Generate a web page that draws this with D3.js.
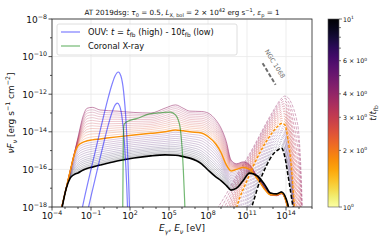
<!DOCTYPE html>
<html>
<head>
<meta charset="UTF-8">
<script src="https://cdn.jsdelivr.net/npm/d3@7"></script>
<style>
  body { margin: 0; background: #fff; }
  svg { font-family: "DejaVu Sans", sans-serif; }
</style>
</head>
<body>
<div id="chart"></div>
<script>
// all values are log10: E in eV, nuF_nu in erg s^-1 cm^-2

// photon spectra (solid): key curves on a common energy grid
const solidLogE   = [-3.3,-2.9,-2.6,-2.3,-2.0,-1.6,-1.3,-0.9,-0.3,1.0,2.3,3.6,4.7,5.5,6.1,6.6,7.5,8.0,8.6,9.0,9.4,9.77,10.2,10.7,11.2,11.8,12.4,12.8,13.3,13.65,14.0,14.25,14.45];
const solidTop    = [-18.15,-16.97,-16.09,-15.2,-14.3,-13.15,-12.75,-12.7,-12.84,-12.9,-12.97,-13.0,-12.74,-12.57,-12.75,-12.9,-12.92,-13.0,-13.37,-13.8,-14.5,-15.5,-15.7,-15.6,-15.75,-16.4,-17.0,-17.35,-17.4,-17.3,-17.7,-18.5,-20];
const solidOrange = [-18.15,-16.97,-16.09,-15.25,-14.75,-14.55,-14.48,-14.43,-14.38,-14.27,-14.17,-14.08,-14.0,-13.9,-13.95,-14.0,-14.06,-14.25,-14.65,-15.1,-15.75,-16.08,-16.0,-15.9,-16.0,-16.5,-17.1,-17.35,-17.35,-17.25,-17.7,-18.5,-20];
const solidBlack  = [-18.3,-17.0,-16.46,-16.28,-16.19,-16.03,-15.95,-15.88,-15.77,-15.55,-15.39,-15.28,-15.23,-15.25,-15.32,-15.4,-15.7,-16.03,-16.4,-16.6,-16.85,-17.1,-17.0,-16.6,-16.2,-16.35,-16.85,-17.25,-17.3,-17.2,-17.55,-18.3,-20];
// thin photon curves: level at E = 10^2.3 eV and their time t/t_fb
const upperLevels = [-12.97,-13.06,-13.15,-13.25,-13.35,-13.45,-13.55,-13.65,-13.75,-13.85,-13.95,-14.06];
const upperTimes  = [3.9,3.7,3.5,3.35,3.2,3.05,2.9,2.75,2.6,2.45,2.3,2.15];
const lowerLevels = [-14.28,-14.38,-14.48,-14.58,-14.68,-14.78,-14.88,-14.97,-15.05,-15.13,-15.21,-15.28,-15.34];
const lowerTimes  = [5.0,5.3,5.6,5.9,6.2,6.5,6.9,7.3,7.7,8.1,8.5,9.0,9.5];

// neutrino spectra (dashed)
const nuLogE   = [8.7,9.5,10.3,11.0,11.5,12.0,12.5,13.0,13.35,13.65,13.9,14.15,14.4,14.6,14.8,15.0,15.15,15.3];
const nuTop    = [-18.1,-17.2,-16.2,-15.4,-14.8,-14.15,-13.5,-12.9,-12.5,-12.22,-12.1,-12.18,-12.45,-12.8,-13.3,-14.2,-16.0,-19];
const nuOrange = [-22,-20,-17.8,-16.6,-15.8,-15.1,-14.5,-14.0,-13.72,-13.56,-13.62,-14.4,-15.8,-17.6,-19.5,-21.5,-23,-25];
const nuBlack  = [-24,-22,-20,-18.8,-17.7,-16.6,-15.8,-15.2,-14.98,-14.86,-15.3,-16.3,-17.4,-18.4,-20,-21.5,-23,-25];
// thin neutrino curves: level at E = 10^13.65 eV
const nuUpperLevels = [-12.22,-12.33,-12.45,-12.57,-12.69,-12.81,-12.93,-13.05,-13.17,-13.29,-13.41];
const nuLowerLevels = [-13.68,-13.8,-13.92,-14.04,-14.16,-14.28,-14.4,-14.52,-14.63,-14.74];

// OUV blackbodies
const ouvHighLogE = [-1.75,-1.5,-1.0,-0.5,0,0.3,0.6,0.85,1.1,1.3,1.5,1.7,1.85,1.95,2.0];
const ouvHigh     = [-18.3,-17.5,-16.0,-14.54,-13.08,-12.25,-11.51,-11.03,-10.82,-11.03,-11.81,-13.52,-15.72,-17.8,-19.1];
const ouvLowLogE  = [-1.2,-1.0,-0.5,0,0.3,0.6,0.85,1.025,1.2,1.4,1.6,1.75,1.82];
const ouvLow      = [-18.04,-17.44,-15.97,-14.53,-13.71,-13.0,-12.58,-12.47,-12.62,-13.31,-14.88,-16.91,-18.23];

// coronal X-ray
const xrayLogE = [1.43,1.46,1.49,1.55,1.8,2.5,3.5,4.5,5.1,5.5,5.7,5.85,6.0,6.1,6.2,6.27];
const xray     = [-19,-16.5,-14.2,-13.6,-13.45,-13.3,-13.05,-12.98,-12.95,-13.1,-13.35,-13.75,-14.8,-16.0,-17.6,-19];

// NGC 1068
const ngcLogE = [12.2, 13.2];
const ngc     = [-10.35, -11.5];

const xTicks = [-4, -1, 2, 5, 8, 11, 14];
const yTicks = [-8, -10, -12, -14, -16, -18];
const cbTicks = [1, 2, 3, 4, 6, 10];
const cbLabels = [["10", "0"], ["2 × 10", "0"], ["3 × 10", "0"], ["4 × 10", "0"], ["6 × 10", "0"], ["10", "1"]];

const W = 389, H = 243;
const L = 52, R = 312, T = 19, B = 207;

const svg = d3.select("#chart").append("svg")
  .attr("width", W).attr("height", H);

const x = d3.scaleLog().domain([1e-4, 1e16]).range([L, R]);
const y = d3.scaleLog().domain([1e-18, 1e-8]).range([B, T]);
const tc = d3.scaleLog().domain([1, 10]).range([B, T]);
const tColor = t => d3.interpolateInferno(1 - Math.log10(t));

function rich(sel, parts, size) {
  let shift = 0;
  parts.forEach(p => {
    const target = p.sup ? -0.42 * size : p.sub ? 0.28 * size : 0;
    const ts = sel.append("tspan").text(p.t).attr("dy", target - shift);
    shift = target;
    if (p.sup || p.sub) ts.attr("font-size", size * 0.7);
    if (p.i) ts.attr("font-style", "italic");
  });
}

svg.append("defs").append("clipPath").attr("id", "plot")
  .append("rect").attr("x", L).attr("y", T).attr("width", R - L).attr("height", B - T);

// grid
const grid = svg.append("g").attr("stroke", "#e8e8e8").attr("stroke-width", 0.8);
xTicks.forEach(e => grid.append("line").attr("x1", x(10 ** e)).attr("x2", x(10 ** e)).attr("y1", T).attr("y2", B));
yTicks.forEach(e => grid.append("line").attr("y1", y(10 ** e)).attr("y2", y(10 ** e)).attr("x1", L).attr("x2", R));

const plot = svg.append("g").attr("clip-path", "url(#plot)");

const line = d3.line()
  .x(d => x(10 ** d[0])).y(d => y(10 ** d[1]))
  .curve(d3.curveMonotoneX);

const pts = (es, fs) => es.map((e, i) => [e, fs[i]]);
// a thin curve of the family: shape taken from the two key curves around its level
function family(es, a, b, ref, level) {
  const k = es.indexOf(ref);
  const w = (a[k] - level) / (a[k] - b[k]);
  return es.map((e, i) => [e, a[i] + w * (b[i] - a[i])]);
}

// thin photon curves
upperLevels.forEach((lv, i) => {
  plot.append("path").attr("d", line(family(solidLogE, solidTop, solidOrange, 2.3, lv)))
    .attr("fill", "none").attr("stroke", tColor(upperTimes[i]))
    .attr("stroke-width", 0.9).attr("opacity", i === 0 ? 0.6 : 0.3);
});
lowerLevels.forEach((lv, i) => {
  plot.append("path").attr("d", line(family(solidLogE, solidOrange, solidBlack, 2.3, lv)))
    .attr("fill", "none").attr("stroke", tColor(lowerTimes[i]))
    .attr("stroke-width", 0.9).attr("opacity", 0.25);
});

// thin neutrino curves
nuUpperLevels.forEach((lv, i) => {
  plot.append("path").attr("d", line(family(nuLogE, nuTop, nuOrange, 13.65, lv)))
    .attr("fill", "none").attr("stroke", tColor(upperTimes[i]))
    .attr("stroke-width", 1).attr("stroke-dasharray", "3,1.5").attr("opacity", 0.4);
});
nuLowerLevels.forEach((lv, i) => {
  plot.append("path").attr("d", line(family(nuLogE, nuOrange, nuBlack, 13.65, lv)))
    .attr("fill", "none").attr("stroke", tColor(lowerTimes[i]))
    .attr("stroke-width", 1).attr("stroke-dasharray", "3,1.5").attr("opacity", 0.25);
});

// highlighted curves
const orange = tColor(1.75);
plot.append("path").attr("d", line(pts(solidLogE, solidOrange)))
  .attr("fill", "none").attr("stroke", orange).attr("stroke-width", 1.5);
plot.append("path").attr("d", line(pts(nuLogE, nuOrange)))
  .attr("fill", "none").attr("stroke", orange).attr("stroke-width", 1.5).attr("stroke-dasharray", "3,1.5");
plot.append("path").attr("d", line(pts(solidLogE, solidBlack)))
  .attr("fill", "none").attr("stroke", "#000").attr("stroke-width", 1.6);
plot.append("path").attr("d", line(pts(nuLogE, nuBlack)))
  .attr("fill", "none").attr("stroke", "#000").attr("stroke-width", 1.5).attr("stroke-dasharray", "4,2");

// OUV and X-ray
[[ouvHighLogE, ouvHigh], [ouvLowLogE, ouvLow]].forEach(c => {
  plot.append("path").attr("d", line(pts(c[0], c[1])))
    .attr("fill", "none").attr("stroke", "blue").attr("stroke-width", 1.2).attr("opacity", 0.5);
});
plot.append("path").attr("d", line(pts(xrayLogE, xray)))
  .attr("fill", "none").attr("stroke", "green").attr("stroke-width", 1.2).attr("opacity", 0.55);

// NGC 1068
plot.append("path").attr("d", d3.line().x(d => x(10 ** d[0])).y(d => y(10 ** d[1]))(pts(ngcLogE, ngc)))
  .attr("stroke", "#6e6e6e").attr("stroke-width", 2).attr("stroke-dasharray", "4,2");
svg.append("text").attr("transform", "translate(273,65) rotate(58)")
  .attr("text-anchor", "middle").attr("font-size", 6.4).attr("fill", "#6e6e6e")
  .text("NGC 1068");

// axes frame and ticks
const ax = svg.append("g").attr("stroke", "#222").attr("stroke-width", 0.8);
ax.append("rect").attr("x", L).attr("y", T).attr("width", R - L).attr("height", B - T).attr("fill", "none");
for (let e = -4; e <= 16; e++) {
  const major = xTicks.includes(e);
  ax.append("line").attr("x1", x(10 ** e)).attr("x2", x(10 ** e)).attr("y1", B).attr("y2", B + (major ? 3.5 : 2));
}
for (let e = -18; e <= -8; e++) {
  const major = yTicks.includes(e);
  ax.append("line").attr("y1", y(10 ** e)).attr("y2", y(10 ** e)).attr("x1", L).attr("x2", L - (major ? 3.5 : 2));
}
xTicks.forEach(e => {
  const t = svg.append("text").attr("x", x(10 ** e)).attr("y", 219)
    .attr("text-anchor", "middle").attr("font-size", 9).attr("fill", "#111");
  rich(t, [{ t: "10" }, { t: (e < 0 ? "−" : "") + Math.abs(e), sup: true }], 9);
});
yTicks.forEach(e => {
  const t = svg.append("text").attr("x", 47).attr("y", y(10 ** e) + 3.5)
    .attr("text-anchor", "end").attr("font-size", 9).attr("fill", "#111");
  rich(t, [{ t: "10" }, { t: "−" + Math.abs(e), sup: true }], 9);
});

// labels
const xl = svg.append("text").attr("x", (L + R) / 2).attr("y", 231)
  .attr("text-anchor", "middle").attr("font-size", 9).attr("fill", "#111");
rich(xl, [{ t: "E", i: true }, { t: "γ", sub: true, i: true }, { t: ",  " }, { t: "E", i: true }, { t: "ν", sub: true, i: true }, { t: " [eV]" }], 9);

const yl = svg.append("text").attr("transform", `translate(14,${(T + B) / 2}) rotate(-90)`)
  .attr("text-anchor", "middle").attr("font-size", 9).attr("fill", "#111");
rich(yl, [{ t: "νF", i: true }, { t: "ν", sub: true, i: true }, { t: " [erg s" }, { t: "−1", sup: true }, { t: " cm" }, { t: "−2", sup: true }, { t: "]" }], 9);

const tl = svg.append("text").attr("x", (L + R) / 2).attr("y", 15)
  .attr("text-anchor", "middle").attr("font-size", 7.2).attr("fill", "#111");
rich(tl, [{ t: "AT 2019dsg: " }, { t: "τ", i: true }, { t: "0", sub: true }, { t: " = 0.5,  " },
  { t: "L", i: true }, { t: "X, bol", sub: true }, { t: " = 2 × 10" }, { t: "42", sup: true },
  { t: " erg s" }, { t: "−1", sup: true }, { t: ",  " }, { t: "ε", i: true }, { t: "p", sub: true }, { t: " = 1" }], 7.2);

// legend
const lg = svg.append("g");
lg.append("rect").attr("x", 57).attr("y", 24).attr("width", 180).attr("height", 31).attr("rx", 2)
  .attr("fill", "#fff").attr("fill-opacity", 0.8).attr("stroke", "#d6d6d6").attr("stroke-width", 0.8);
lg.append("line").attr("x1", 61).attr("x2", 80).attr("y1", 32).attr("y2", 32)
  .attr("stroke", "blue").attr("stroke-width", 1.2).attr("opacity", 0.5);
lg.append("line").attr("x1", 61).attr("x2", 80).attr("y1", 46).attr("y2", 46)
  .attr("stroke", "green").attr("stroke-width", 1.2).attr("opacity", 0.55);
const l1 = lg.append("text").attr("x", 88).attr("y", 35).attr("font-size", 8.3).attr("fill", "#111");
rich(l1, [{ t: "OUV: " }, { t: "t", i: true }, { t: " = " }, { t: "t", i: true }, { t: "fb", sub: true },
  { t: " (high) - 10" }, { t: "t", i: true }, { t: "fb", sub: true }, { t: " (low)" }], 8.3);
lg.append("text").attr("x", 88).attr("y", 49).attr("font-size", 8.3).attr("fill", "#111").text("Coronal X-ray");

// colorbar
const cbx = 328, cbw = 11;
const grad = svg.select("defs").append("linearGradient").attr("id", "cb")
  .attr("x1", 0).attr("y1", 1).attr("x2", 0).attr("y2", 0);
d3.range(0, 1.0001, 0.05).forEach(f => grad.append("stop").attr("offset", f).attr("stop-color", d3.interpolateInferno(1 - f)));
svg.append("rect").attr("x", cbx).attr("y", T).attr("width", cbw).attr("height", B - T)
  .attr("fill", "url(#cb)").attr("stroke", "#555").attr("stroke-width", 0.6);
d3.range(1, 11).forEach(t => {
  const major = t === 1 || t === 10;
  svg.append("line").attr("x1", cbx + cbw).attr("x2", cbx + cbw + (major ? 3 : 2))
    .attr("y1", tc(t)).attr("y2", tc(t)).attr("stroke", "#222").attr("stroke-width", 0.6);
});
cbTicks.forEach((t, i) => {
  const tx = svg.append("text").attr("x", cbx + cbw + 4).attr("y", tc(t) + 2.5)
    .attr("font-size", 6.3).attr("fill", "#111");
  rich(tx, [{ t: cbLabels[i][0] }, { t: cbLabels[i][1], sup: true }], 6.3);
});
const cl = svg.append("text").attr("transform", `translate(376,${(T + B) / 2}) rotate(-90)`)
  .attr("text-anchor", "middle").attr("font-size", 8.5).attr("fill", "#111");
rich(cl, [{ t: "t", i: true }, { t: "/" }, { t: "t", i: true }, { t: "fb", sub: true }], 8.5);
</script>
</body>
</html>
